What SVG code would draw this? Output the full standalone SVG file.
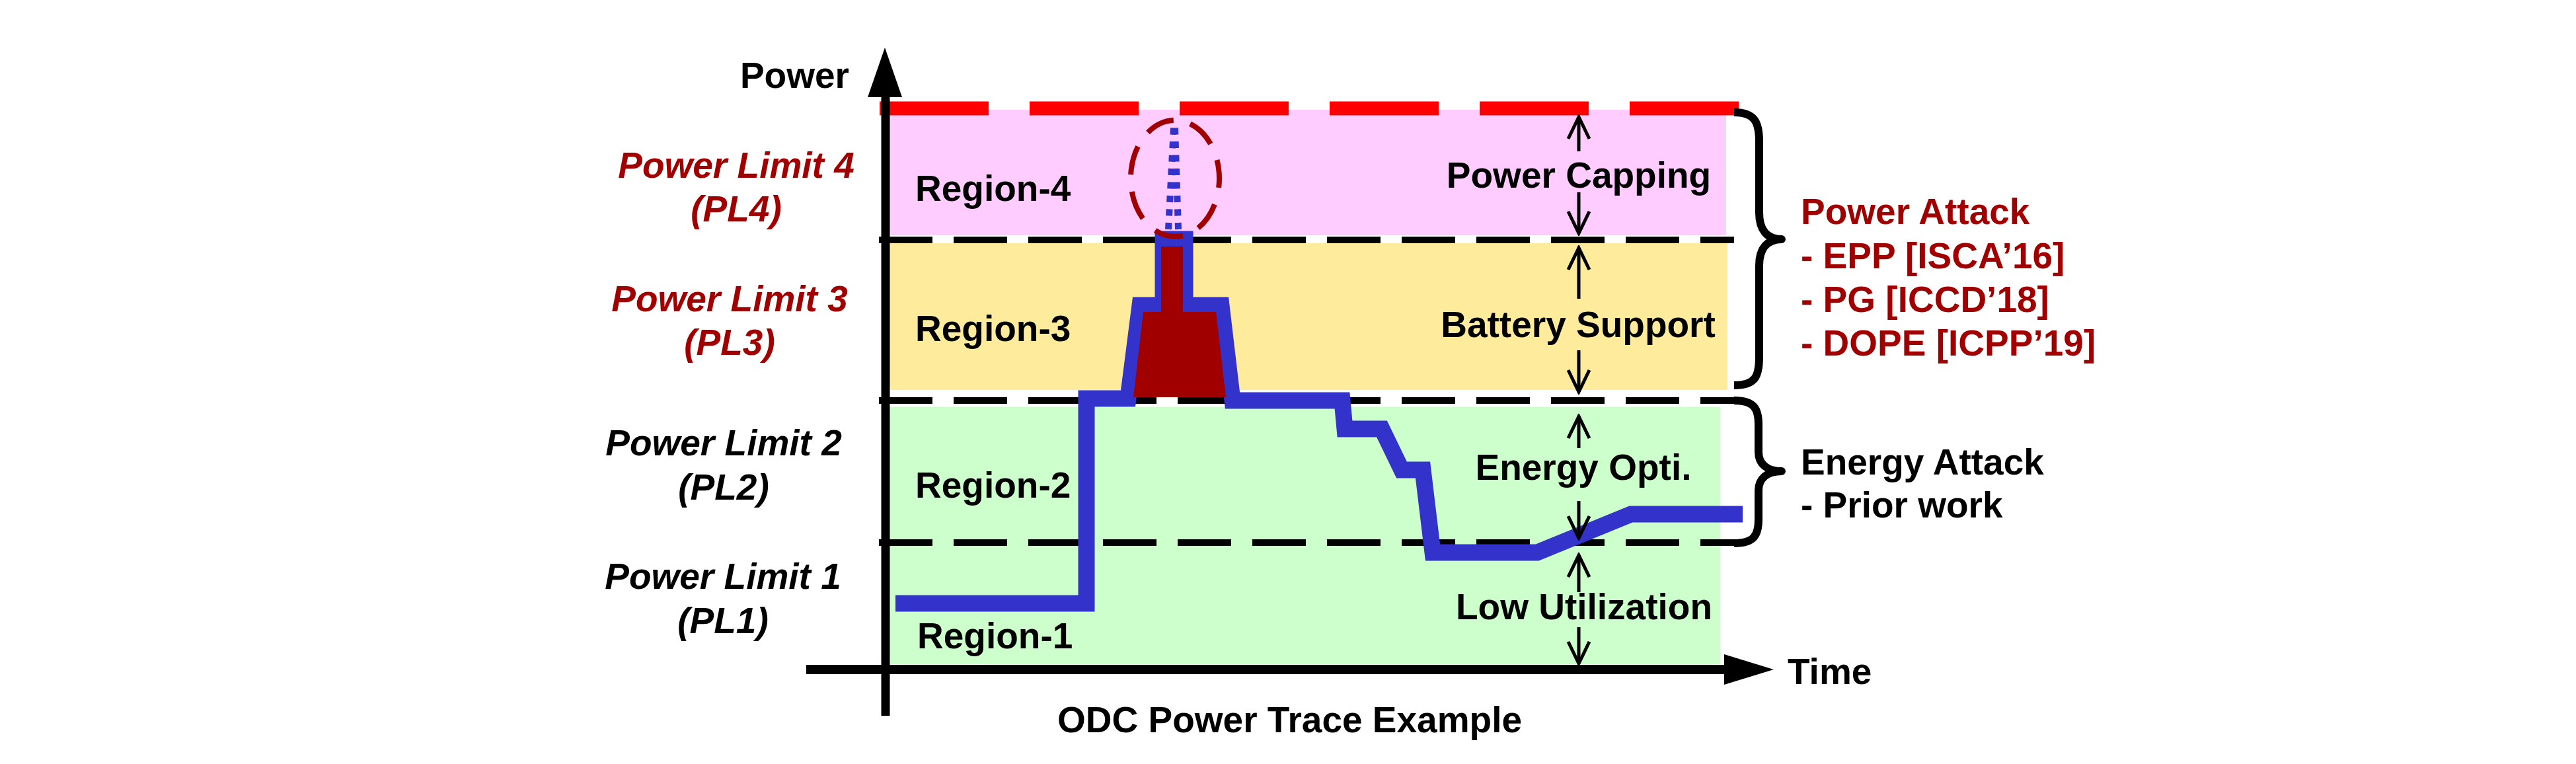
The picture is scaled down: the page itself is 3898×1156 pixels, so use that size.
<svg xmlns="http://www.w3.org/2000/svg" width="3898" height="1156" viewBox="0 0 3898 1156">
<style>
.t{font-family:"Liberation Sans",Arial,sans-serif;font-weight:bold;font-size:55px;fill:#000}
.pl{font-family:"Liberation Sans",Arial,sans-serif;font-weight:bold;font-style:italic;font-size:55px;text-anchor:middle}
.red{fill:#A00000}
.blk{fill:#000}
.mid{text-anchor:middle}
.dash{stroke:#000;stroke-width:10;stroke-dasharray:81 32;fill:none}
.arr{stroke:#000;stroke-width:5;fill:none}
.brace{stroke:#000;stroke-width:12;fill:none;stroke-linejoin:round}
.dot{stroke:#3333CC;stroke-width:10;stroke-dasharray:10 10.5;fill:none}
</style>
<defs>
<marker id="ah" markerUnits="userSpaceOnUse" markerWidth="44" markerHeight="44" viewBox="-40 -22 44 44" refX="0" refY="0" orient="auto">
<path d="M-33,-16 L0,0 L-33,16" fill="none" stroke="#000" stroke-width="5"/>
</marker>
</defs>
<rect width="3898" height="1156" fill="#fff"/>
<g id="regions">
<rect id="region4-bg" x="1340" y="166" width="1272" height="190" fill="#FFCCFF"/>
<rect id="region3-bg" x="1340" y="368" width="1274" height="222" fill="#FFEB9C"/>
<rect id="region2-1-bg" x="1340" y="616" width="1263" height="389" fill="#CCFFCC"/>
</g>
<g id="limits">
<line x1="1331" y1="164" x2="2631" y2="164" stroke="#FF0000" stroke-width="21" stroke-dasharray="165 62"/>
<line class="dash" x1="1330" y1="363" x2="2624" y2="363"/>
<line class="dash" x1="1330" y1="606" x2="2624" y2="606"/>
<line class="dash" x1="1330" y1="821" x2="2624" y2="821"/>
</g>
<g id="trace">
<polyline points="1355,913 1644,913 1644,603 1707,603 1725,462 1760,462 1760,362 1793,362 1793,462 1848,462 1865,606 2031,606 2035,649 2091,649 2121,711 2153,711 2168,836 2326,836 2468,778 2637,778" fill="none" stroke="#3333CC" stroke-width="25" stroke-linejoin="miter" stroke-miterlimit="10"/>
<polygon points="1715,601 1730,472 1757,472 1757,373 1790,373 1790,472 1840,472 1855,601" fill="#A00000"/>
<line class="dot" x1="1768" y1="347" x2="1776" y2="193"/>
<line class="dot" x1="1783" y1="347" x2="1778" y2="193"/>
<ellipse cx="1778" cy="270" rx="67" ry="88" fill="none" stroke="#A00000" stroke-width="8" stroke-dasharray="44 26" stroke-dashoffset="30"/>
</g>
<g id="axes">
<line x1="1340" y1="140" x2="1340" y2="1083" stroke="#000" stroke-width="13"/>
<polygon points="1339,72 1313,147 1365,147" fill="#000"/>
<line x1="1220" y1="1013" x2="2615" y2="1013" stroke="#000" stroke-width="14"/>
<polygon points="2609,990 2609,1036 2684,1013" fill="#000"/>
<text class="t" x="1285" y="133" text-anchor="end">Power</text>
<text class="t" x="2705" y="1035">Time</text>
<text class="t" x="1600" y="1108">ODC Power Trace Example</text>
</g>
<g id="limit-labels">
<text class="pl red" x="1114" y="269">Power Limit 4</text>
<text class="pl red" x="1114" y="335">(PL4)</text>
<text class="pl red" x="1104" y="471">Power Limit 3</text>
<text class="pl red" x="1104" y="537">(PL3)</text>
<text class="pl blk" x="1095" y="689">Power Limit 2</text>
<text class="pl blk" x="1095" y="756">(PL2)</text>
<text class="pl blk" x="1094" y="891">Power Limit 1</text>
<text class="pl blk" x="1094" y="958">(PL1)</text>
</g>
<g id="region-labels">
<text class="t" x="1385" y="304">Region-4</text>
<text class="t" x="1385" y="516">Region-3</text>
<text class="t" x="1385" y="753">Region-2</text>
<text class="t" x="1388" y="981">Region-1</text>
</g>
<g id="range-arrows">
<line class="arr" x1="2389" y1="229" x2="2389" y2="177" marker-end="url(#ah)"/>
<line class="arr" x1="2389" y1="291" x2="2389" y2="353" marker-end="url(#ah)"/>
<line class="arr" x1="2389" y1="452" x2="2389" y2="375" marker-end="url(#ah)"/>
<line class="arr" x1="2389" y1="530" x2="2389" y2="593" marker-end="url(#ah)"/>
<line class="arr" x1="2389" y1="678" x2="2389" y2="630" marker-end="url(#ah)"/>
<line class="arr" x1="2389" y1="758" x2="2389" y2="814" marker-end="url(#ah)"/>
<line class="arr" x1="2389" y1="896" x2="2389" y2="840" marker-end="url(#ah)"/>
<line class="arr" x1="2389" y1="949" x2="2389" y2="1004" marker-end="url(#ah)"/>
<text class="t mid" x="2389" y="284">Power Capping</text>
<text class="t mid" x="2388" y="510">Battery Support</text>
<text class="t mid" x="2396" y="726">Energy Opti.</text>
<text class="t mid" x="2397" y="937">Low Utilization</text>
</g>
<g id="power-attack">
<path class="brace" d="M2624,170 C2656,170 2662,186 2662,214 L2662,322 C2662,348 2674,362 2696,362 C2674,362 2662,376 2662,402 L2662,540 C2662,570 2656,583 2624,583"/>
<text class="t red" x="2725" y="339">Power Attack</text>
<text class="t red" x="2725" y="406">- EPP [ISCA’16]</text>
<text class="t red" x="2725" y="472">- PG [ICCD’18]</text>
<text class="t red" x="2725" y="538">- DOPE [ICPP’19]</text>
</g>
<g id="energy-attack">
<path class="brace" d="M2624,606 C2654,606 2661,618 2661,642 L2661,684 C2661,702 2674,713 2696,713 C2674,713 2661,724 2661,742 L2661,786 C2661,810 2654,822 2624,822"/>
<text class="t" x="2725" y="718">Energy Attack</text>
<text class="t" x="2725" y="783">- Prior work</text>
</g>
</svg>
